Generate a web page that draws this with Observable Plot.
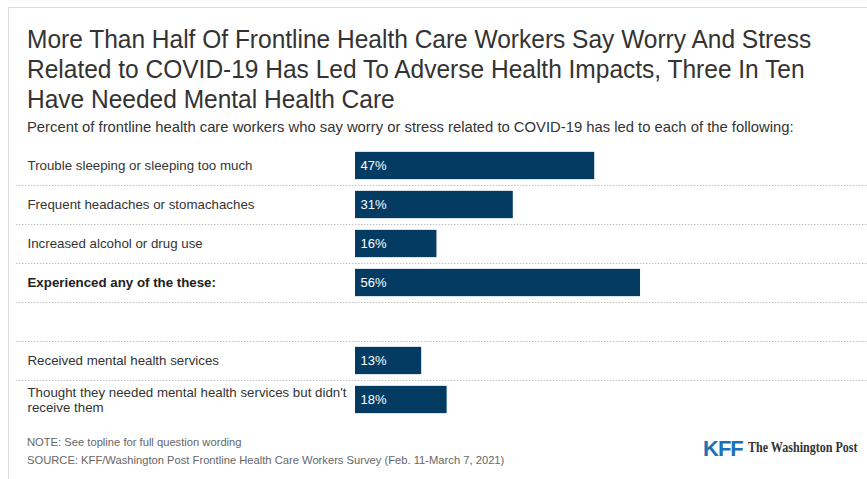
<!DOCTYPE html>
<html>
<head>
<meta charset="utf-8">
<script src="https://cdn.jsdelivr.net/npm/d3@7"></script>
<script src="https://cdn.jsdelivr.net/npm/@observablehq/plot@0.6"></script>
<style>
  html, body { margin: 0; padding: 0; background: #fff; }
  #wrap { position: relative; width: 867px; height: 479px; overflow: hidden; font-family: "Liberation Sans", Arial, sans-serif; }
  #frame { position: absolute; left: 8px; top: 7px; width: 870px; height: 480px; border-left: 1.5px solid #dcdcdc; border-top: 1.5px solid #dcdcdc; }
  .t { position: absolute; white-space: nowrap; }
  #title { left: 27px; top: 24px; font-size: 25px; line-height: 30px; color: #333; transform: scaleX(0.98); transform-origin: left top; }
  #subtitle { left: 27px; top: 119px; font-size: 14.8px; color: #333; }
  #note { left: 27px; top: 433px; font-size: 11.2px; color: #666; line-height: 18px; }
  #kff { left: 703px; top: 436px; font-size: 22px; font-weight: 900; color: #1c6fba; letter-spacing: -1px; }
  #wapo { left: 748px; top: 440px; font-size: 14px; font-weight: bold; color: #333; font-family: "Liberation Serif", "DejaVu Serif", serif; transform: scaleX(0.86); transform-origin: left top; }
  #chart { position: absolute; left: 0; top: 140px; }
</style>
</head>
<body>
<div id="wrap">
  <div id="frame"></div>
  <div class="t" id="title">More Than Half Of Frontline Health Care Workers Say Worry And Stress<br>Related to COVID-19 Has Led To Adverse Health Impacts, Three In Ten<br>Have Needed Mental Health Care</div>
  <div class="t" id="subtitle">Percent of frontline health care workers who say worry or stress related to COVID-19 has led to each of the following:</div>
  <div id="chart"></div>
  <div class="t" id="note">NOTE: See topline for full question wording<br>SOURCE: KFF/Washington Post Frontline Health Care Workers Survey (Feb. 11-March 7, 2021)</div>
  <div class="t" id="kff">KFF</div>
  <div class="t" id="wapo">The Washington Post</div>
</div>
<script>
const labels = [
  "Trouble sleeping or sleeping too much",
  "Frequent headaches or stomachaches",
  "Increased alcohol or drug use",
  "Experienced any of the these:",
  "Received mental health services",
  "Thought they needed mental health services but didn't\nreceive them"
];
const values = [47, 31, 16, 56, 13, 18];
const boldRows = [false, false, false, true, false, false];
const gapKey = "__gap__";

const data = labels.map((label, i) => ({label, value: values[i], bold: boldRows[i]}));
const yDomain = [...labels.slice(0, 4), gapKey, ...labels.slice(4)];
const separatorRows = yDomain.slice(0, -1);

const chart = Plot.plot({
  width: 867,
  height: 285,
  marginLeft: 355,
  marginRight: 3,
  marginTop: 6,
  marginBottom: 6,
  style: {fontFamily: "'Liberation Sans', Arial, sans-serif", background: "transparent"},
  x: {domain: [0, 100], axis: null},
  y: {domain: yDomain, axis: null, paddingInner: 0.3, paddingOuter: 0.15, round: false},
  marks: [
    Plot.ruleY(separatorRows, {y: d => d, dy: 19.5, insetLeft: -339, insetRight: -3, stroke: "#c4c4c4", strokeDasharray: "1.5,1.5", strokeWidth: 1}),
    Plot.barX(data, {x: "value", y: "label", fill: "#033b63"}),
    Plot.text(data, {x: 0, y: "label", text: d => d.value + "%", dx: 5, textAnchor: "start", fill: "white", fontSize: 13}),
    Plot.text(data.filter(d => !d.bold), {y: "label", text: "label", frameAnchor: "left", dx: -328, dy: -0.5, textAnchor: "start", fill: "#333", fontSize: 13.3, lineHeight: 1.15}),
    Plot.text(data.filter(d => d.bold), {y: "label", text: "label", frameAnchor: "left", dx: -328, dy: -0.5, textAnchor: "start", fill: "#222", fontSize: 13.3, fontWeight: "bold"})
  ]
});
document.getElementById("chart").appendChild(chart);
</script>
</body>
</html>
